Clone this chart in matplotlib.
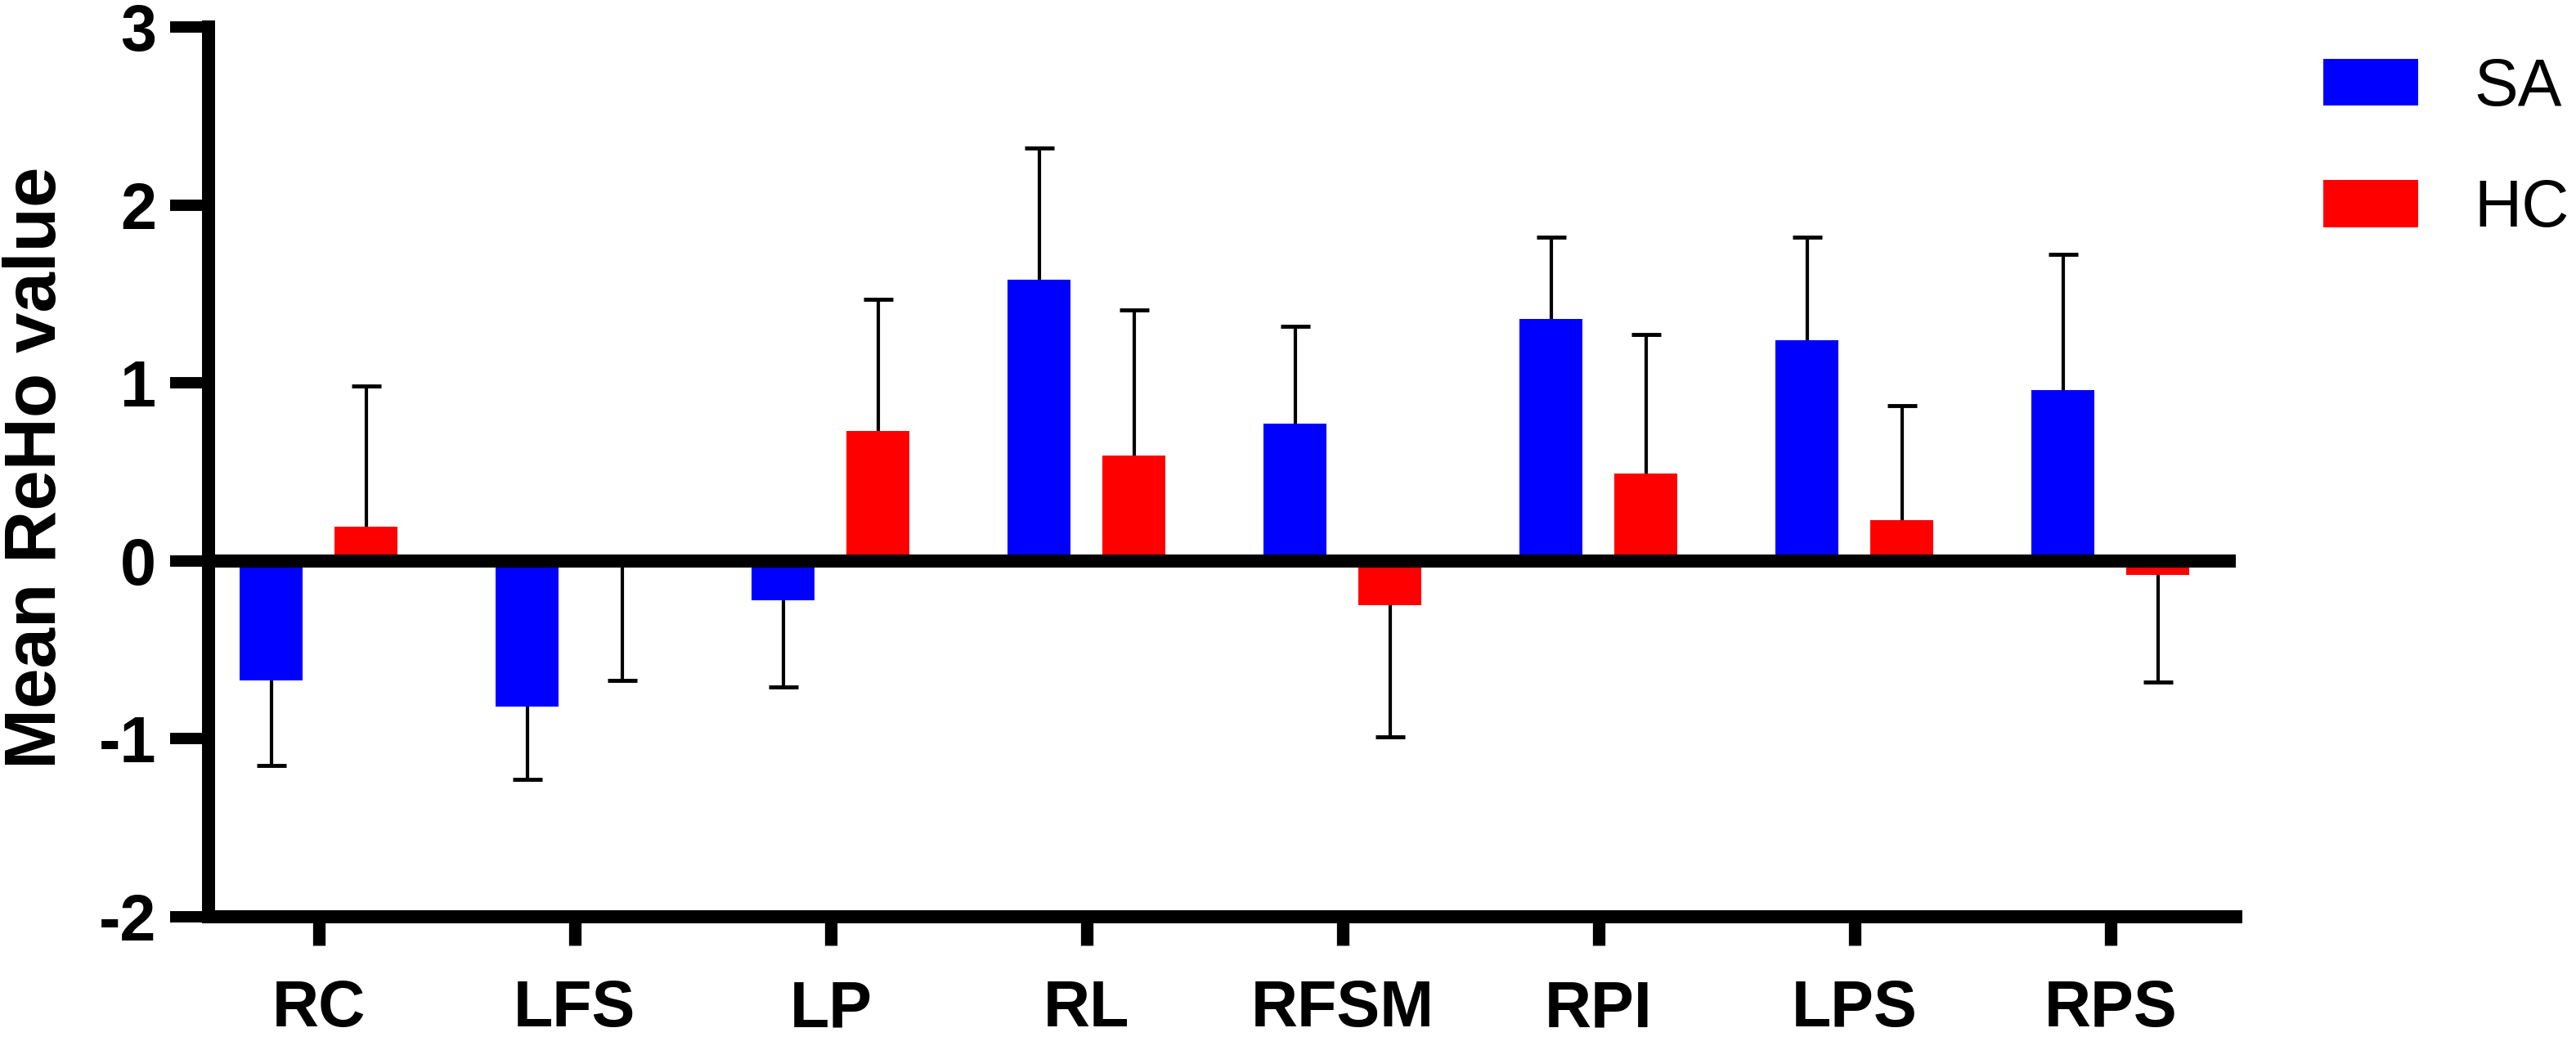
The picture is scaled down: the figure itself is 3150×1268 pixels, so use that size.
import numpy as np
import matplotlib
matplotlib.use('Agg')
import matplotlib.pyplot as plt

# Mean ReHo values per region, SA vs HC
regions = ['RC', 'LFS', 'LP', 'RL', 'RFSM', 'RPI', 'LPS', 'RPS']
sa_mean = [-0.67, -0.82, -0.22, 1.58, 0.77, 1.36, 1.24, 0.96]
sa_err = [0.48, 0.41, 0.49, 0.74, 0.55, 0.46, 0.58, 0.76]
hc_mean = [0.19, -0.02, 0.73, 0.59, -0.25, 0.49, 0.23, -0.08]
hc_err = [0.79, 0.65, 0.74, 0.82, 0.74, 0.78, 0.64, 0.60]
groups = ['SA', 'HC']

plt.rcParams['font.family'] = ['Liberation Sans', 'DejaVu Sans']
plt.rcParams['axes.unicode_minus'] = False

fig = plt.figure(figsize=(31.5, 12.68), dpi=100)
ax = fig.add_axes([0.081, 0.116, 0.787, 0.858])

x = np.arange(len(regions))
width = 0.246
offset = 0.185

for vals, errs, col, lab, dx in [(sa_mean, sa_err, '#0000ff', groups[0], -offset),
                                 (hc_mean, hc_err, '#ff0000', groups[1], offset)]:
    vals = np.array(vals)
    errs = np.array(errs)
    ax.bar(x + dx, vals, width, color=col, label=lab, zorder=3)
    # one-sided error bar, pointing away from zero (Prism style)
    tips = vals + np.sign(vals) * errs
    ax.vlines(x + dx, vals, tips, color='black', lw=3, zorder=2)
    ax.plot(x + dx, tips, ls='none', marker='_', ms=26, mew=3.5,
            color='black', zorder=2)

# thick zero line
ax.axhline(0, color='black', lw=11.5, zorder=4)

ax.set_xlim(-0.43, 7.49)
ax.set_ylim(-2, 3)
ax.set_yticks([-2, -1, 0, 1, 2, 3])
ax.set_xticks(x)
ax.set_xticklabels(regions, fontsize=57, fontweight='bold')
for t in ax.get_yticklabels():
    t.set_fontsize(57)
    t.set_fontweight('bold')

for s in ['top', 'right']:
    ax.spines[s].set_visible(False)
for s in ['left', 'bottom']:
    ax.spines[s].set_linewidth(11.5)
ax.tick_params(axis='y', length=34, width=10, pad=12)
ax.tick_params(axis='x', length=25, width=11, pad=30)

ax.set_ylabel('Mean ReHo value', fontsize=64, fontweight='bold')
ax.yaxis.set_label_coords(-0.068, 0.505)

ax.legend(loc='upper left', bbox_to_anchor=(0.902, 0.945), bbox_transform=fig.transFigure,
          frameon=False, fontsize=58, handlelength=1.44, handleheight=0.72,
          handletextpad=0.84, labelspacing=0.9, borderpad=0, borderaxespad=0)

fig.savefig('out.png', dpi=100)
